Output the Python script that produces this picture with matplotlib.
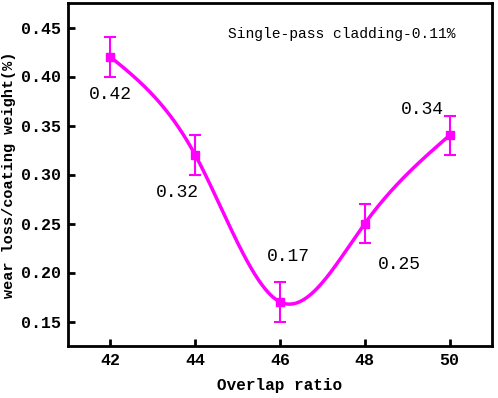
import numpy as np
import matplotlib
matplotlib.use("Agg")
import matplotlib.pyplot as plt

overlap = [42, 44, 46, 48, 50]
wear = [0.42, 0.32, 0.17, 0.25, 0.34]
err = [0.02, 0.02, 0.02, 0.02, 0.02]
labels = ["0.42", "0.32", "0.17", "0.25", "0.34"]
xticks = [42, 44, 46, 48, 50]
yticks = [0.15, 0.20, 0.25, 0.30, 0.35, 0.40, 0.45]
title = "Single-pass cladding-0.11%"

def natural_spline(x, y, xs):
    x = np.asarray(x, float); y = np.asarray(y, float)
    n = len(x)
    h = np.diff(x)
    A = np.zeros((n, n)); b = np.zeros(n)
    A[0, 0] = 1; A[-1, -1] = 1
    for i in range(1, n - 1):
        A[i, i - 1] = h[i - 1]
        A[i, i] = 2 * (h[i - 1] + h[i])
        A[i, i + 1] = h[i]
        b[i] = 3 * ((y[i + 1] - y[i]) / h[i] - (y[i] - y[i - 1]) / h[i - 1])
    c = np.linalg.solve(A, b)
    out = np.empty_like(xs)
    for k, xv in enumerate(xs):
        i = min(max(np.searchsorted(x, xv) - 1, 0), n - 2)
        dx = xv - x[i]
        bi = (y[i + 1] - y[i]) / h[i] - h[i] * (2 * c[i] + c[i + 1]) / 3
        di = (c[i + 1] - c[i]) / (3 * h[i])
        out[k] = y[i] + bi * dx + c[i] * dx ** 2 + di * dx ** 3
    return out

mono = "Liberation Mono"
fig = plt.figure(figsize=(4.98, 3.98), dpi=100)
ax = fig.add_axes([68 / 498, 1 - 346 / 398, (492 - 68) / 498, (346 - 3) / 398])

xs = np.linspace(overlap[0], overlap[-1], 400)
ax.plot(xs, natural_spline(overlap, wear, xs), color="#FF00FF", lw=2.5)
ax.errorbar(overlap, wear, yerr=err, fmt="s", color="#FF00FF", ms=6,
            elinewidth=1.5, capsize=4, capthick=1.5)

offsets = [(0.0, -0.038), (-0.43, -0.038), (0.19, 0.046), (0.81, -0.042), (-0.65, 0.026)]
for xv, yv, lab, (dx, dy) in zip(overlap, wear, labels, offsets):
    ax.text(xv + dx, yv + dy, lab, ha="center", va="center", fontsize=13, family=mono)

ax.text(0.645, 0.91, title, transform=ax.transAxes, ha="center", va="center",
        fontsize=10.5, family=mono)

ax.set_xlim(41, 51)
ax.set_ylim(0.125, 0.475)
ax.set_xticks(xticks)
ax.set_yticks(yticks)
ax.set_xticklabels([str(t) for t in xticks], family=mono, fontweight="bold", fontsize=12)
ax.set_yticklabels([f"{t:.2f}" for t in yticks], family=mono, fontweight="bold", fontsize=12)
ax.tick_params(direction="in", length=5, width=2, top=False, right=False, pad=5)
for s in ax.spines.values():
    s.set_linewidth(2)
ax.set_xlabel("Overlap ratio", family=mono, fontweight="bold", fontsize=11.5, labelpad=7)
ax.set_ylabel("wear loss/coating weight(%)", family=mono, fontweight="bold", fontsize=11, labelpad=4)

fig.savefig("out.png", dpi=100)
